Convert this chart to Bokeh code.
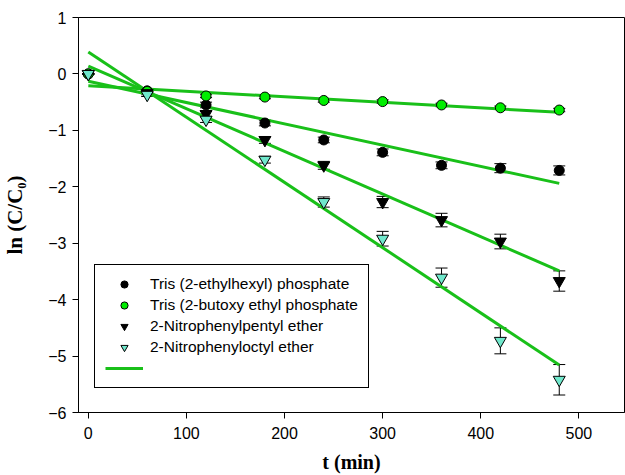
from bokeh.plotting import figure
from bokeh.models import (ColumnDataSource, Whisker, TeeHead, Legend, LegendItem,
                          Range1d, FixedTicker)
from bokeh.embed import file_html
from bokeh.resources import INLINE

# sampling times (min)
t = [0, 60, 120, 180, 240, 300, 360, 420, 480]

# ln(C/C0) for each carrier, with error estimates
ehp = [0, -0.30, -0.55, -0.87, -1.17, -1.39, -1.62, -1.67, -1.71]
ehp_err = [0, 0.03, 0.05, 0.05, 0.05, 0.06, 0.06, 0.08, 0.08]
tbep = [0, -0.31, -0.39, -0.41, -0.47, -0.49, -0.55, -0.60, -0.64]
tbep_err = [0, 0.02, 0.03, 0.03, 0.03, 0.03, 0.03, 0.03, 0.03]
npp = [0, -0.34, -0.71, -1.17, -1.62, -2.27, -2.59, -2.97, -3.67]
npp_err = [0, 0.03, 0.05, 0.06, 0.07, 0.10, 0.12, 0.13, 0.18]
npoe = [0, -0.37, -0.81, -1.52, -2.27, -2.92, -3.61, -4.73, -5.42]
npoe_err = [0, 0.03, 0.05, 0.06, 0.09, 0.13, 0.17, 0.23, 0.27]

labels = ["Tris (2-ethylhexyl) phosphate",
          "Tris (2-butoxy ethyl phosphate",
          "2-Nitrophenylpentyl ether",
          "2-Nitrophenyloctyl ether"]

# linear fits: value at start and end of the fitted span
fit_t = [0, 480]
fit_start = [-0.13, -0.21, 0.14, 0.39]
fit_end = [-1.94, -0.68, -3.49, -5.16]

x_ticks = [0, 100, 200, 300, 400, 500]
y_ticks = [-6, -5, -4, -3, -2, -1, 0, 1]

LINE_GREEN = "#19c019"

p = figure(width=625, height=475, output_backend="svg", toolbar_location=None,
           x_range=Range1d(-10, 546.5), y_range=Range1d(-6, 1),
           min_border_left=78, min_border_right=1, min_border_top=17,
           min_border_bottom=62)

p.grid.visible = False
p.outline_line_color = "black"
p.outline_line_width = 1
p.background_fill_color = "white"
p.border_fill_color = "white"

for ax, ticks in ((p.xaxis, x_ticks), (p.yaxis, y_ticks)):
    ax.ticker = FixedTicker(ticks=ticks)
    ax.minor_tick_line_color = None
    ax.major_tick_in = 0
    ax.major_tick_out = 6
    ax.axis_line_color = "black"
    ax.major_tick_line_color = "black"
    ax.major_label_text_font = "Liberation Sans"
    ax.major_label_text_font_size = "16px"
    ax.major_label_text_color = "black"
    ax.axis_label_text_font = "Liberation Serif"
    ax.axis_label_text_font_style = "bold"
    ax.axis_label_text_color = "black"

p.xaxis.axis_label = "t (min)"
p.yaxis.axis_label = "ln (C/C\u2080)"
p.xaxis.axis_label_text_font_size = "20px"
p.yaxis.axis_label_text_font_size = "21px"
p.xaxis.major_label_standoff = 8
p.xaxis.axis_label_standoff = 9
p.yaxis.major_label_standoff = 6
p.yaxis.axis_label_standoff = 18

# fitted lines
fit_src = ColumnDataSource(dict(
    xs=[fit_t for _ in fit_start],
    ys=[[a, b] for a, b in zip(fit_start, fit_end)],
))
fit_r = p.multi_line("xs", "ys", source=fit_src, line_color=LINE_GREEN, line_width=3)

series = [
    (ehp, ehp_err, "circle", "black", 10),
    (tbep, tbep_err, "circle", "#00ee00", 10),
    (npp, npp_err, "inverted_triangle", "black", 12),
    (npoe, npoe_err, "inverted_triangle", "#70e8cc", 12),
]

items = []
for (vals, errs, marker, fill, size), label in zip(series, labels):
    src = ColumnDataSource(dict(
        t=t, y=vals,
        lo=[v - e for v, e in zip(vals, errs)],
        hi=[v + e for v, e in zip(vals, errs)],
    ))
    w = Whisker(source=src, base="t", lower="lo", upper="hi", dimension="height",
                line_color="black", line_width=1,
                upper_head=TeeHead(size=12, line_color="black", line_width=1),
                lower_head=TeeHead(size=12, line_color="black", line_width=1))
    p.add_layout(w)
    r = p.scatter("t", "y", source=src, marker=marker, size=size,
                  fill_color=fill, line_color="black", line_width=1)
    items.append(LegendItem(label=label, renderers=[r]))

items.append(LegendItem(label=" ", renderers=[fit_r]))

legend = Legend(items=items, location=(16, 24),
                glyph_width=38, glyph_height=18, spacing=3,
                label_standoff=7, padding=10, margin=0,
                label_text_font="Liberation Sans", label_text_font_size="15.5px",
                label_text_color="black",
                border_line_color="black", border_line_width=1, border_line_alpha=1,
                background_fill_color="white", background_fill_alpha=1)
p.add_layout(legend, "center")

open("out.html", "w").write(file_html(p, INLINE))
